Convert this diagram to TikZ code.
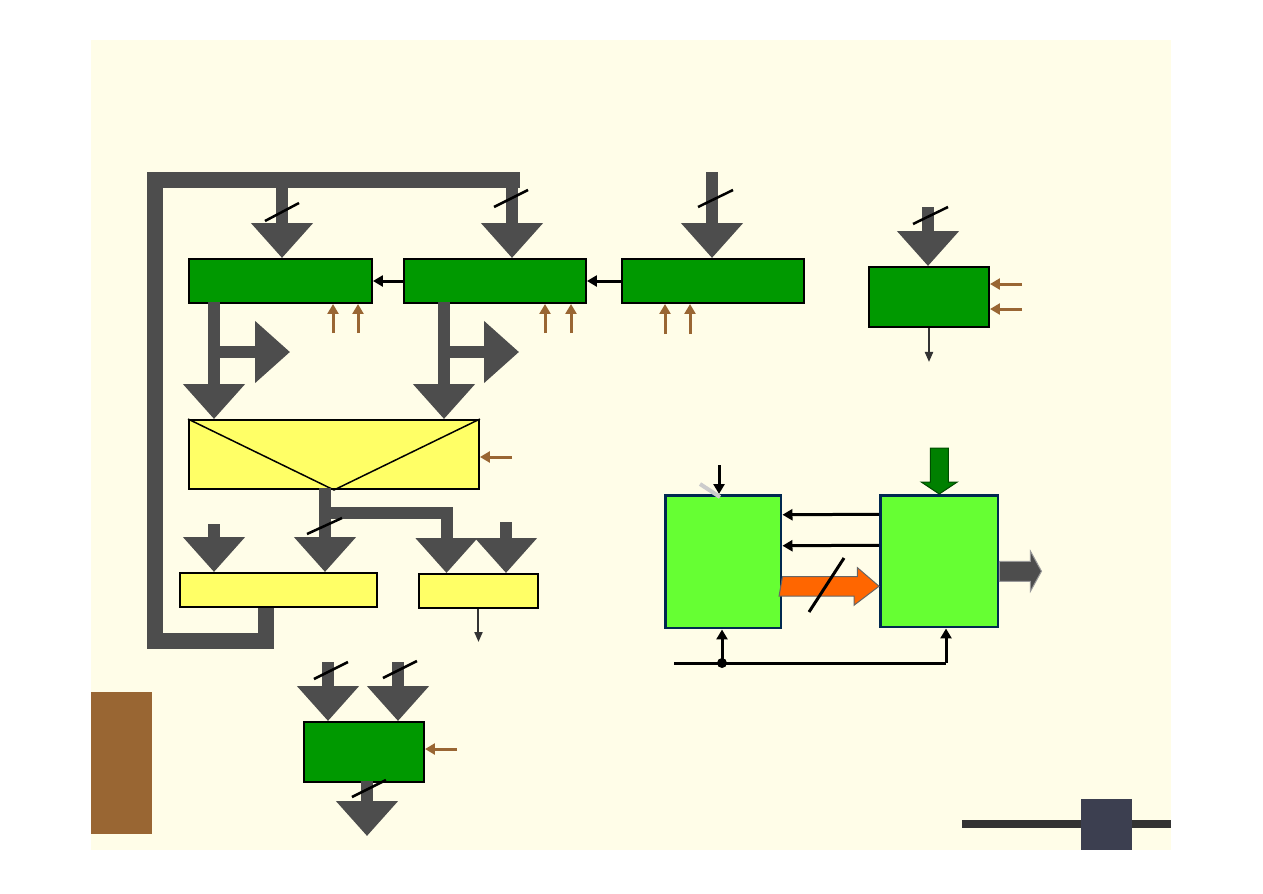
\documentclass[tikz,border=0pt]{standalone}
\usepackage{tikz}
\usepackage{xcolor}
\usetikzlibrary{arrows.meta,positioning}
\definecolor{slidebg}{RGB}{255,253,232}
\definecolor{reggreen}{RGB}{0,153,0}
\definecolor{muxyellow}{RGB}{255,255,102}
\definecolor{busgrey}{RGB}{77,77,77}
\definecolor{ctrlbrown}{RGB}{153,102,51}
\definecolor{unitgreen}{RGB}{102,255,51}
\definecolor{unitnavy}{RGB}{0,40,80}
\definecolor{flowred}{RGB}{255,102,0}
\definecolor{startgreen}{RGB}{0,128,0}
\definecolor{barnavy}{RGB}{60,63,80}

\begin{document}
\begin{tikzpicture}[
    x=0.02cm,y=-0.02cm,
    reg/.style={rectangle,draw=black,fill=reggreen,line width=0.04cm,inner sep=0pt,anchor=north west},
    sel/.style={rectangle,draw=black,fill=muxyellow,line width=0.04cm,inner sep=0pt,anchor=north west},
    unit/.style={rectangle,draw=unitnavy,fill=unitgreen,line width=0.05cm,inner sep=0pt,anchor=north west},
    bus/.style={draw=busgrey,line width=0.24cm},
    busarrow/.style={bus,-{Triangle[width=1.2cm,length=0.7cm]}},
    fbbus/.style={draw=busgrey,line width=0.32cm,line join=miter},
    ctrl/.style={draw=ctrlbrown,line width=0.06cm,-{Triangle[width=0.22cm,length=0.2cm]}},
    wire/.style={draw=black,line width=0.06cm,-{Triangle[width=0.22cm,length=0.2cm]}},
    thinwire/.style={draw=black!80,line width=0.04cm,-{Triangle[width=0.16cm,length=0.2cm]}},
    slash/.style={draw=black,line width=0.05cm}
  ]
    % slide
    \useasboundingbox[fill=white] (0,0) rectangle (1263,893);
    \fill[slidebg] (91,40) rectangle (1171,850);
    \fill[ctrlbrown] (91,692) rectangle (152,834);
    \draw[draw=black!80,line width=0.16cm] (962,824) -- (1171,824);
    \fill[barnavy] (1081,799) rectangle (1132,850);

    % registers and selectors
    \node[reg,minimum width=3.66cm,minimum height=0.88cm] (r1) at (188,258) {};
    \node[reg,minimum width=3.64cm,minimum height=0.88cm] (r2) at (403,258) {};
    \node[reg,minimum width=3.64cm,minimum height=0.88cm] (r3) at (621,258) {};
    \node[reg,minimum width=2.4cm,minimum height=1.2cm] (r4) at (868,266) {};
    \node[reg,minimum width=2.4cm,minimum height=1.2cm] (r5) at (303,721) {};
    \node[sel,minimum width=5.8cm,minimum height=1.38cm] (mux) at (188,419) {};
    \draw[line width=0.03cm] (mux.north west) -- (mux.south) -- (mux.north east);
    \node[sel,minimum width=3.94cm,minimum height=0.68cm] (sel1) at (179,572) {};
    \node[sel,minimum width=2.38cm,minimum height=0.68cm] (sel2) at (418,573) {};
    \node[unit,minimum width=2.32cm,minimum height=2.66cm] (g1) at (664,494) {};
    \node[unit,minimum width=2.36cm,minimum height=2.64cm] (g2) at (879,494) {};

    % feedback bus
    \coordinate (fbl) at (155,641);
    \coordinate (fbt) at (155,180);
    \coordinate (fbr) at (520,180);
    \draw[fbbus] ([xshift=-0.25cm]sel1.south) |- (fbl) -- (fbt) -- (fbr);
    \coordinate (tap1) at (282,172);
    \coordinate (tap2) at (512,172);
    \coordinate (in3) at (712,172);
    \coordinate (in4) at (928,207);
    \draw[busarrow] (tap1) -- (tap1 |- r1.north);
    \draw[busarrow] (tap2) -- (tap2 |- r2.north);
    \draw[busarrow] (in3) -- (in3 |- r3.north);
    \draw[busarrow] (in4) -- (in4 |- r4.north);
    \draw[slash] (265,221) -- (299,203);
    \draw[slash] (494,207) -- (528,190);
    \draw[slash] (698,207) -- (733,190);
    \draw[slash] (913,224) -- (948,207);

    \draw[wire] (r2.west) -- (r1.east);
    \draw[wire] (r3.west) -- (r2.east);

    % control inputs
    \foreach \x in {333,358} \draw[ctrl] (\x,333) -- (\x,333 |- r1.south);
    \foreach \x in {545,571} \draw[ctrl] (\x,333) -- (\x,333 |- r2.south);
    \foreach \x in {665,690} \draw[ctrl] (\x,334) -- (\x,334 |- r3.south);
    \foreach \y in {284,309} \draw[ctrl] (1022,\y) -- (1022,\y -| r4.east);
    \draw[ctrl] (512,457) -- (512,457 -| mux.east);
    \draw[ctrl] (457,749) -- (457,749 -| r5.east);
    \draw[thinwire] (r4.south) -- ++(0,34);
    \draw[thinwire] (sel2.south) -- ++(0,33);

    % register outputs
    \coordinate (o1) at (214,302);
    \coordinate (o2) at (444,302);
    \draw[busarrow] (o1) -- (o1 |- mux.north);
    \draw[busarrow] (214,352) -- ++(76,0);
    \draw[busarrow] (o2) -- (o2 |- mux.north);
    \draw[busarrow] (444,352) -- ++(75,0);

    % selector outputs
    \coordinate (mo) at (325,488);
    \coordinate (mb) at (325,513);
    \coordinate (in5) at (214,524);
    \coordinate (in6) at (506,522);
    \draw[busarrow] (mo) -- (mo |- sel1.north);
    \draw[busarrow,line join=miter] (mb) -| ([xshift=-0.64cm]sel2.north);
    \draw[busarrow] (in5) -- (in5 |- sel1.north);
    \draw[busarrow] (in6) -- (in6 |- sel2.north);
    \draw[slash] (307,534) -- (342,518);

    \coordinate (in7) at (328,662);
    \coordinate (in8) at (398,662);
    \coordinate (o5) at (367,781);
    \draw[busarrow] (in7) -- (in7 |- r5.north);
    \draw[busarrow] (in8) -- (in8 |- r5.north);
    \draw[busarrow] (o5) -- ++(0,55);
    \draw[slash] (314,679) -- (348,662);
    \draw[slash] (383,678) -- (417,661);
    \draw[slash] (352,797) -- (386,780);

    % right-hand pair
    \draw[wire] ([yshift=0.94cm]g2.west) -- ([yshift=0.94cm]g1.east);
    \draw[wire] ([yshift=0.32cm]g2.west) -- ([yshift=0.32cm]g1.east);
    \filldraw[fill=flowred,draw=black!60,line width=0.02cm] ([yshift=-0.3cm]g1.east) -- ++(75,0) -- ++(0,-9)
      -- ([yshift=-0.5cm]g2.west) -- ++(-25,19) -- ++(0,-9) -- ++(-75,0) -- cycle;
    \draw[slash,line width=0.06cm] (809,612) -- (844,558);
    \filldraw[fill=startgreen,draw=black!70!green,line width=0.02cm] (g2.north) -- ++(-18,-12) -- ++(9,0)
      -- ++(0,-34) -- ++(18,0) -- ++(0,34) -- ++(9,0) -- cycle;
    \filldraw[fill=busgrey,draw=black!40,line width=0.02cm] (g2.east) -- ++(31,0) -- ++(0,-10) -- ++(11,20)
      -- ++(-11,20) -- ++(0,-10) -- ++(-31,0) -- cycle;
    \coordinate (gin) at (719,465);
    \draw[wire] (gin) -- (gin |- g1.north);
    \draw[draw=black!20,line width=0.08cm] (700,484) -- (720,497);

    % clock line
    \coordinate (ck) at (674,663);
    \coordinate (ckdot) at (722,663);
    \coordinate (ckr) at (946,663);
    \draw[line width=0.06cm] (ck) -- (ckr);
    \fill (ckdot) circle (0.1cm);
    \draw[wire] (ckdot) -- (ckdot |- g1.south);
    \draw[wire] (ckr) -- (ckr |- g2.south);
\end{tikzpicture}
\end{document}
